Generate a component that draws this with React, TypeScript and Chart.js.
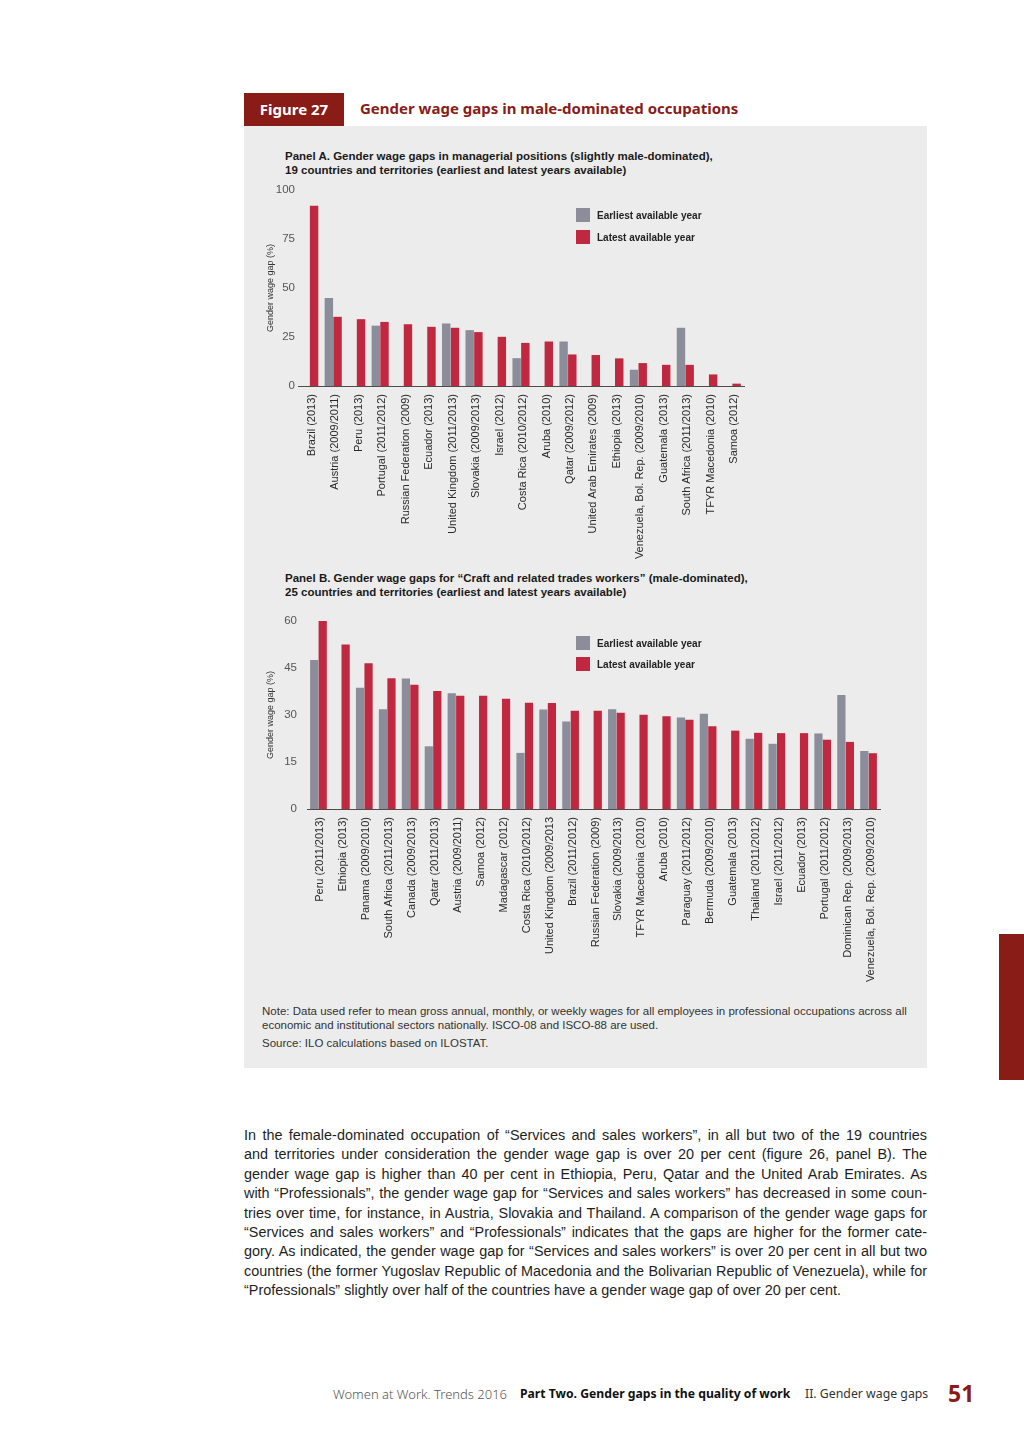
import React, { useEffect, useRef } from "react";
import { Chart, registerables } from "chart.js";

Chart.register(...registerables);

// ---------------- Data ----------------
const A_LABELS = [
  "Brazil (2013)",
  "Austria (2009/2011)",
  "Peru (2013)",
  "Portugal (2011/2012)",
  "Russian Federation (2009)",
  "Ecuador (2013)",
  "United Kingdom (2011/2013)",
  "Slovakia (2009/2013)",
  "Israel (2012)",
  "Costa Rica (2010/2012)",
  "Aruba (2010)",
  "Qatar (2009/2012)",
  "United Arab Emirates (2009)",
  "Ethiopia (2013)",
  "Venezuela, Bol. Rep. (2009/2010)",
  "Guatemala (2013)",
  "South Africa (2011/2013)",
  "TFYR Macedonia (2010)",
  "Samoa (2012)",
];
const A_EARLIEST = [null, 44.9, null, 30.8, null, null, 31.9, 28.5, null, 14.2, null, 22.7, null, null, 8.3, null, 29.7, null, null];
const A_LATEST = [92.0, 35.3, 34.1, 32.7, 31.5, 30.2, 29.7, 27.5, 25.1, 22.0, 22.7, 16.1, 15.8, 14.1, 11.7, 10.8, 10.8, 5.9, 1.2];
const A_TICKS = { max: 100, step: 25 };

const B_LABELS = [
  "Peru (2011/2013)",
  "Ethiopia (2013)",
  "Panama (2009/2010)",
  "South Africa (2011/2013)",
  "Canada (2009/2013)",
  "Qatar (2011/2013)",
  "Austria (2009/2011)",
  "Samoa (2012)",
  "Madagascar (2012)",
  "Costa Rica (2010/2012)",
  "United Kingdom (2009/2013",
  "Brazil (2011/2012)",
  "Russian Federation (2009)",
  "Slovakia (2009/2013)",
  "TFYR Macedonia (2010)",
  "Aruba (2010)",
  "Paraguay (2011/2012)",
  "Bermuda (2009/2010)",
  "Guatemala (2013)",
  "Thailand (2011/2012)",
  "Israel (2011/2012)",
  "Ecuador (2013)",
  "Portugal (2011/2012)",
  "Dominican Rep. (2009/2013)",
  "Venezuela, Bol. Rep. (2009/2010)",
];
const B_EARLIEST = [47.5, null, 38.7, 31.8, 41.6, 20.0, 36.9, null, null, 17.9, 31.7, 27.9, null, 31.8, null, null, 29.2, 30.4, null, 22.4, 20.8, null, 24.1, 36.4, 18.5];
const B_LATEST = [60.0, 52.5, 46.5, 41.7, 39.6, 37.6, 36.1, 36.1, 35.2, 33.9, 33.8, 31.3, 31.3, 30.7, 30.1, 29.6, 28.5, 26.4, 25.0, 24.3, 24.2, 24.2, 22.1, 21.4, 17.8];
const B_TICKS = { max: 60, step: 15 };

const SERIES = ["Earliest available year", "Latest available year"];
const Y_TITLE = "Gender wage gap (%)";

const BODY_LINES = [
  "In the female-dominated occupation of \u201CServices and sales workers\u201D, in all but two of the 19 countries",
  "and territories under consideration the gender wage gap is over 20 per cent (figure 26, panel B). The",
  "gender wage gap is higher than 40 per cent in Ethiopia, Peru, Qatar and the United Arab Emirates. As",
  "with \u201CProfessionals\u201D, the gender wage gap for \u201CServices and sales workers\u201D has decreased in some coun-",
  "tries over time, for instance, in Austria, Slovakia and Thailand. A comparison of the gender wage gaps for",
  "\u201CServices and sales workers\u201D and \u201CProfessionals\u201D indicates that the gaps are higher for the former cate-",
  "gory. As indicated, the gender wage gap for \u201CServices and sales workers\u201D is over 20 per cent in all but two",
  "countries (the former Yugoslav Republic of Macedonia and the Bolivarian Republic of Venezuela), while for",
  "\u201CProfessionals\u201D slightly over half of the countries have a gender wage gap of over 20 per cent.",
];

// ---------------- Styles ----------------
const GREY = "#8b8e9a";
const RED = "#c0283f";
const DARK_RED = "#8a1c18";
const PANEL_BG = "#ececec";
const SANS = '"Liberation Sans", Arial, sans-serif';
const ROUND = '"Noto Sans", "Open Sans", sans-serif';

type PanelProps = {
  labels: string[];
  earliest: (number | null)[];
  latest: (number | null)[];
  max: number;
  step: number;
  left: number;
  top: number;
  width: number;
  height: number;
  yWidth: number;
  xHeight: number;
  padRight: number;
  padTop: number;
  yPad: number;
  titlePad: number;
};

function BarPanel(p: PanelProps) {
  const ref = useRef<HTMLCanvasElement>(null);
  useEffect(() => {
    const chart = new Chart(ref.current!, {
      type: "bar",
      data: {
        labels: p.labels,
        datasets: [
          {
            label: SERIES[0],
            data: p.earliest,
            backgroundColor: GREY,
            categoryPercentage: 0.74,
            barPercentage: 0.97,
          },
          {
            label: SERIES[1],
            data: p.latest,
            backgroundColor: RED,
            categoryPercentage: 0.74,
            barPercentage: 0.97,
          },
        ],
      },
      options: {
        responsive: false,
        maintainAspectRatio: false,
        animation: false,
        devicePixelRatio: 1,
        layout: { padding: { top: p.padTop, right: p.padRight, left: 0, bottom: 0 } },
        plugins: { legend: { display: false }, tooltip: { enabled: false } },
        scales: {
          x: {
            grid: { display: false, drawTicks: false },
            border: { display: true, color: "#4d4d4d", width: 1 },
            ticks: {
              autoSkip: false,
              minRotation: 90,
              maxRotation: 90,
              color: "#2a2a2a",
              padding: 8,
              labelOffset: 2,
              font: { family: SANS, size: 11 },
            },
            afterFit: (s: any) => {
              s.height = p.xHeight;
            },
          },
          y: {
            min: 0,
            max: p.max,
            ticks: {
              stepSize: p.step,
              color: "#555",
              padding: p.yPad,
              font: { family: SANS, size: 11.5 },
            },
            grid: { display: false, drawTicks: false },
            border: { display: false },
            title: {
              display: true,
              text: Y_TITLE,
              color: "#333",
              font: { family: SANS, size: 9 },
              padding: { top: p.titlePad, bottom: 0 },
            },
            afterFit: (s: any) => {
              s.width = p.yWidth;
            },
          },
        },
      },
    } as any);
    return () => chart.destroy();
  }, []);
  return (
    <canvas
      ref={ref}
      width={p.width}
      height={p.height}
      style={{ position: "absolute", left: p.left, top: p.top, width: p.width, height: p.height }}
    />
  );
}

function Legend({ left, top, gap }: { left: number; top: number; gap: number }) {
  const row = (color: string, text: string, y: number) => (
    <div style={{ position: "absolute", left, top: y, height: 14, display: "flex", alignItems: "center" }}>
      <div style={{ width: 14, height: 14, background: color }} />
      <div
        style={{
          marginLeft: 7,
          fontFamily: SANS,
          fontWeight: "bold",
          fontSize: 10,
          color: "#222",
          whiteSpace: "nowrap",
        }}
      >
        {text}
      </div>
    </div>
  );
  return (
    <>
      {row(GREY, SERIES[0], top)}
      {row(RED, SERIES[1], top + gap)}
    </>
  );
}

function abs(left: number, top: number, extra: React.CSSProperties = {}): React.CSSProperties {
  return { position: "absolute", left, top, ...extra };
}

const BODY_SCALE = 0.93;

export default function App() {
  return (
    <div style={{ position: "absolute", left: 0, top: 0, width: 1024, height: 1449, background: "#fff", overflow: "hidden" }}>
      {/* Header */}
      <div
        style={abs(244, 93, {
          width: 100,
          height: 33,
          background: DARK_RED,
          color: "#fff",
          fontFamily: ROUND,
          fontWeight: "bold",
          fontSize: 15,
          lineHeight: "33px",
          textAlign: "center",
        })}
      >
        Figure 27
      </div>
      <div
        style={abs(360, 93, {
          height: 33,
          lineHeight: "31px",
          color: DARK_RED,
          fontFamily: ROUND,
          fontWeight: "bold",
          fontSize: 15,
          whiteSpace: "nowrap",
        })}
      >
        Gender wage gaps in male-dominated occupations
      </div>

      {/* Grey panel */}
      <div style={abs(244, 126, { width: 683, height: 942, background: PANEL_BG })} />

      {/* Panel A title */}
      <div style={abs(285, 149, { fontFamily: SANS, fontWeight: "bold", fontSize: 11.5, lineHeight: "14px", color: "#1a1a1a", whiteSpace: "nowrap" })}>
        Panel A. Gender wage gaps in managerial positions (slightly male-dominated),
        <br />
        19 countries and territories (earliest and latest years available)
      </div>

      <BarPanel
        labels={A_LABELS}
        earliest={A_EARLIEST}
        latest={A_LATEST}
        max={A_TICKS.max}
        step={A_TICKS.step}
        left={255}
        top={180}
        width={505}
        height={390}
        yWidth={43}
        xHeight={184}
        padRight={16}
        padTop={10}
        yPad={3}
        titlePad={10}
      />
      <Legend left={576} top={208} gap={22} />

      {/* Panel B title */}
      <div style={abs(285, 571, { fontFamily: SANS, fontWeight: "bold", fontSize: 11.5, lineHeight: "14px", color: "#1a1a1a", whiteSpace: "nowrap" })}>
        Panel B. Gender wage gaps for {"\u201C"}Craft and related trades workers{"\u201D"} (male-dominated),
        <br />
        25 countries and territories (earliest and latest years available)
      </div>

      <BarPanel
        labels={B_LABELS}
        earliest={B_EARLIEST}
        latest={B_LATEST}
        max={B_TICKS.max}
        step={B_TICKS.step}
        left={255}
        top={604}
        width={640}
        height={381}
        yWidth={52}
        xHeight={176}
        padRight={15}
        padTop={10}
        yPad={10}
        titlePad={10}
      />
      <Legend left={576} top={636} gap={21} />

      {/* Note */}
      <div style={abs(262, 1004, { fontFamily: SANS, fontSize: 11.5, lineHeight: "14px", color: "#333", whiteSpace: "nowrap" })}>
        Note: Data used refer to mean gross annual, monthly, or weekly wages for all employees in professional occupations across all
        <br />
        economic and institutional sectors nationally. ISCO-08 and ISCO-88 are used.
      </div>
      <div style={abs(262, 1036, { fontFamily: SANS, fontSize: 11.5, lineHeight: "14px", color: "#333", whiteSpace: "nowrap" })}>
        Source: ILO calculations based on ILOSTAT.
      </div>

      {/* Body text (slightly condensed, like the printed face) */}
      <div
        style={abs(244, 1125, {
          width: 683 / BODY_SCALE,
          fontFamily: SANS,
          fontSize: 15.5,
          lineHeight: "19.4px",
          color: "#1e1e1e",
          transform: `scaleX(${BODY_SCALE})`,
          transformOrigin: "0 0",
        })}
      >
        {BODY_LINES.map((l, i) => (
          <div
            key={i}
            style={{
              textAlign: i === BODY_LINES.length - 1 ? "left" : "justify",
              textAlignLast: i === BODY_LINES.length - 1 ? "left" : "justify",
              whiteSpace: "nowrap",
            }}
          >
            {l}
          </div>
        ))}
      </div>

      {/* Side tab */}
      <div style={abs(999, 934, { width: 25, height: 146, background: DARK_RED })} />

      {/* Footer */}
      <div style={abs(333, 1385, { fontFamily: ROUND, fontSize: 13, lineHeight: "18px", color: "#555", whiteSpace: "nowrap", fontWeight: 300 })}>
        Women at Work. Trends 2016
      </div>
      <div style={abs(520, 1385, { fontFamily: ROUND, fontSize: 12.2, lineHeight: "18px", color: "#111", whiteSpace: "nowrap", fontWeight: "bold" })}>
        Part Two. Gender gaps in the quality of work
      </div>
      <div style={abs(805, 1385, { fontFamily: ROUND, fontSize: 12.3, lineHeight: "18px", color: "#333", whiteSpace: "nowrap" })}>
        II. Gender wage gaps
      </div>
      <div style={abs(948, 1379, { fontFamily: ROUND, fontSize: 23, lineHeight: "28px", color: DARK_RED, whiteSpace: "nowrap", fontWeight: "bold" })}>
        51
      </div>
    </div>
  );
}
